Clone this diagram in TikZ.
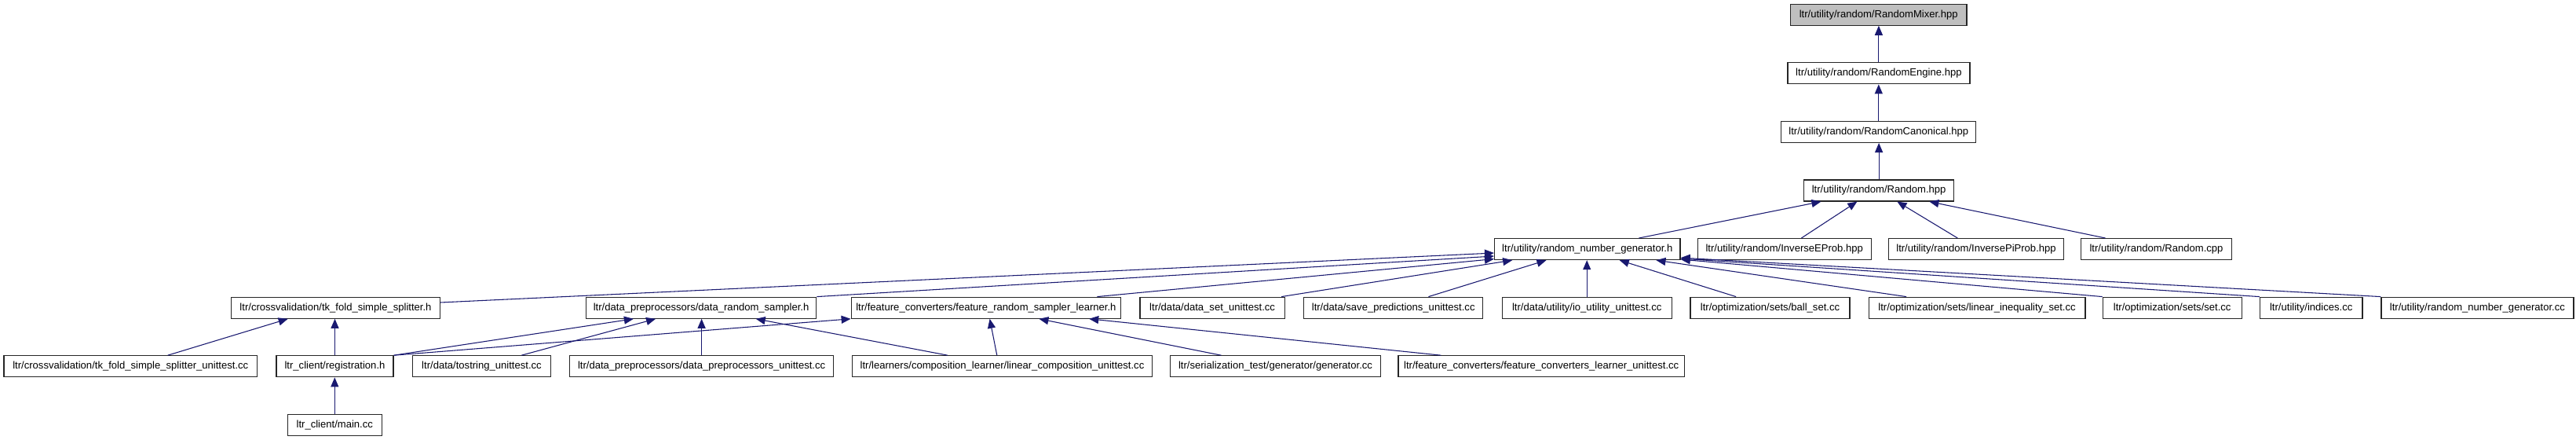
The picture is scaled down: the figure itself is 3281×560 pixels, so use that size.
\documentclass[tikz,border=0pt]{standalone}
\usepackage{fontspec}
\setmainfont{Liberation Sans}
\usetikzlibrary{arrows.meta,calc}
\definecolor{edgeblue}{RGB}{25,25,112}
\begin{document}
\begin{tikzpicture}[x=0.75pt,y=-0.75pt,
  box/.style={draw=black!85, line width=0.9pt, fill=white, inner sep=0pt,
    minimum height=20.25pt, font=\fontsize{9.8pt}{11pt}\selectfont},
  w/.style={minimum width=#1*0.75pt},
  edge/.style={draw=edgeblue, line width=0.8pt, -{Triangle[length=9pt,width=7.5pt]}}]
\useasboundingbox (0,0) rectangle (3281,560);
% row 0-3
\node[box,fill=black!25,w=224.5] (mix) at (2392.7,18.7) {ltr/utility/random/RandomMixer.hpp};
\node[box,w=232] (eng) at (2392.9,93.3) {ltr/utility/random/RandomEngine.hpp};
\node[box,w=248] (can) at (2392.8,167.9) {ltr/utility/random/RandomCanonical.hpp};
\node[box,w=191.4] (rnd) at (2393.1,242.5) {ltr/utility/random/Random.hpp};
% row 4
\node[box,w=236.5] (rng) at (2021.8,317.1) {ltr/utility/random\_number\_generator.h};
\node[box,w=221] (iep) at (2272.7,317.1) {ltr/utility/random/InverseEProb.hpp};
\node[box,w=223] (ipp) at (2517,317.1) {ltr/utility/random/InversePiProb.hpp};
\node[box,w=192] (rcpp) at (2746.5,317.1) {ltr/utility/random/Random.cpp};
% row 5
\node[box,w=265.3] (tk) at (427.5,391.7) {ltr/crossvalidation/tk\_fold\_simple\_splitter.h};
\node[box,w=293.4] (drs) at (893.1,391.7) {ltr/data\_preprocessors/data\_random\_sampler.h};
\node[box,w=343.4] (frs) at (1255.9,391.7) {ltr/feature\_converters/feature\_random\_sampler\_learner.h};
\node[box,w=184.2] (dsu) at (1544.1,391.7) {ltr/data/data\_set\_unittest.cc};
\node[box,w=228] (spu) at (1774.7,391.7) {ltr/data/save\_predictions\_unittest.cc};
\node[box,w=215.8] (iou) at (2021.2,391.7) {ltr/data/utility/io\_utility\_unittest.cc};
\node[box,w=203] (bs) at (2254.5,391.7) {ltr/optimization/sets/ball\_set.cc};
\node[box,w=275.8] (lis) at (2518,391.7) {ltr/optimization/sets/linear\_inequality\_set.cc};
\node[box,w=176.8] (sets) at (2766.7,391.7) {ltr/optimization/sets/set.cc};
\node[box,w=130.5] (idx) at (2943.7,391.7) {ltr/utility/indices.cc};
\node[box,w=245] (rngcc) at (3155.4,391.7) {ltr/utility/random\_number\_generator.cc};
% row 6
\node[box,w=322.5] (tku) at (166.3,466.3) {ltr/crossvalidation/tk\_fold\_simple\_splitter\_unittest.cc};
\node[box,w=149] (reg) at (426.5,466.3) {ltr\_client/registration.h};
\node[box,w=176] (tos) at (613.5,466.3) {ltr/data/tostring\_unittest.cc};
\node[box,w=336.2] (dpu) at (893.6,466.3) {ltr/data\_preprocessors/data\_preprocessors\_unittest.cc};
\node[box,w=382.6] (lcu) at (1276.5,466.3) {ltr/learners/composition\_learner/linear\_composition\_unittest.cc};
\node[box,w=268.4] (gen) at (1624.5,466.3) {ltr/serialization\_test/generator/generator.cc};
\node[box,w=364.3] (fcu) at (1963.2,466.3) {ltr/feature\_converters/feature\_converters\_learner\_unittest.cc};
% row 7
\node[box,w=120] (main) at (426.3,540.9) {ltr\_client/main.cc};
% edges
\draw[edge] (eng.north) -- (eng.north |- mix.south);
\draw[edge] (can.north) -- (can.north |- eng.south);
\draw[edge] (rnd.north) -- (rnd.north |- can.south);
\draw[edge] ($(rng.north west)+(184.5,0)$) -- ($(rnd.south west)+(22.6,0)$);
\draw[edge] ($(iep.north west)+(132.8,0)$) -- ($(rnd.south west)+(68.6,0)$);
\draw[edge] ($(ipp.north west)+(88.4,0)$) -- ($(rnd.south west)+(119.6,0)$);
\draw[edge] ($(rcpp.north west)+(31.6,0)$) -- ($(rnd.south west)+(160.6,0)$);
% into rng
\draw[edge] ($(tk.east)+(0,-6.7)$) -- ($(rng.west)+(0,4.9)$);
\draw[edge] (drs.north east) -- ($(rng.west)+(0,8.9)$);
\draw[edge] ($(frs.north west)+(313.8,0)$) -- ($(rng.west)+(0,12.5)$);
\draw[edge] ($(dsu.north west)+(180.7,0)$) -- ($(rng.south west)+(23.2,0)$);
\draw[edge] ($(spu.north west)+(159.3,0)$) -- ($(rng.south west)+(66.5,0)$);
\draw[edge] (iou.north) -- (iou.north |- rng.south);
\draw[edge] ($(bs.north west)+(58.7,0)$) -- ($(rng.south west)+(159.8,0)$);
\draw[edge] ($(lis.north west)+(48.5,0)$) -- ($(rng.south west)+(206.5,0)$);
\draw[edge] (sets.north west) -- ($(rng.east)+(0,13)$);
\draw[edge] (idx.north west) -- ($(rng.east)+(0,12)$);
\draw[edge] (rngcc.north west) -- ($(rng.east)+(0,11)$);
% into tk
\draw[edge] ($(tku.north west)+(209.2,0)$) -- ($(tk.south west)+(72.4,0)$);
\draw[edge] (reg.north) -- (reg.north |- tk.south);
% into drs
\draw[edge] (reg.north east) -- ($(drs.south west)+(61.1,0)$);
\draw[edge] ($(tos.north west)+(139.3,0)$) -- ($(drs.south west)+(89.3,0)$);
\draw[edge] (dpu.north) -- (dpu.north |- drs.south);
\draw[edge] ($(lcu.north west)+(122.4,0)$) -- ($(drs.south west)+(216.9,0)$);
% into frs
\draw[edge] (reg.north east) -- (frs.south west);
\draw[edge] ($(lcu.north west)+(185.2,0)$) -- ($(frs.south west)+(177,0)$);
\draw[edge] ($(gen.north west)+(65.7,0)$) -- ($(frs.south west)+(239.8,0)$);
\draw[edge] ($(fcu.north west)+(54.9,0)$) -- ($(frs.south west)+(303.6,0)$);
% main
\draw[edge] (main.north) -- (main.north |- reg.south);
\end{tikzpicture}
\end{document}
